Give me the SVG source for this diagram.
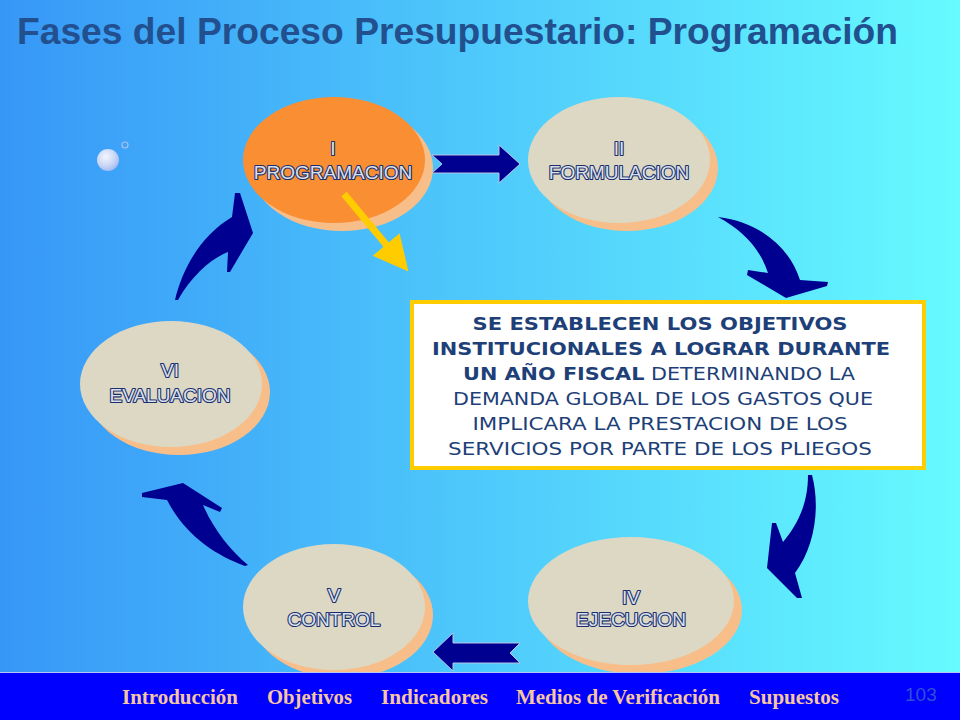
<svg xmlns="http://www.w3.org/2000/svg" width="960" height="720" viewBox="0 0 960 720">
  <defs>
    <linearGradient id="bg" x1="0" y1="0" x2="1" y2="0">
      <stop offset="0" stop-color="#3797F7"/>
      <stop offset="1" stop-color="#66FBFF"/>
    </linearGradient>
    <radialGradient id="ball" cx="0.4" cy="0.35" r="0.7">
      <stop offset="0" stop-color="#F4F6FF"/>
      <stop offset="0.6" stop-color="#C9D6F6"/>
      <stop offset="1" stop-color="#9FB6EE"/>
    </radialGradient>
    <marker id="yhead" viewBox="0 0 10 10" refX="8" refY="5" markerWidth="5" markerHeight="5.5" orient="auto" markerUnits="strokeWidth">
      <path d="M0,0 L10,5 L0,10 Z" fill="#FFCC00"/>
    </marker>
    <style>
      .shadow { fill: #F8BE8A; }
      .oval { fill: #DDD8C4; }
      .oval.active { fill: #F98E32; }
      .lbl { font-family: "Liberation Sans", Arial, sans-serif; font-size: 19px; text-anchor: middle; fill: #DCE0EA; stroke: #1A2F6E; stroke-width: 2.2px; paint-order: stroke; stroke-linejoin: round; }
      .big { fill: #000090; stroke: #B8C4E8; stroke-width: 1; }
      .curve { fill: #000090; }
      .box { font-family: "DejaVu Sans", Verdana, sans-serif; font-size: 18px; fill: #1E3F78; text-anchor: middle; }
      .b { font-weight: bold; }
      .nav { font-family: "Liberation Serif", "Times New Roman", serif; font-weight: bold; font-size: 21px; fill: #F6C6A2; }
    </style>
  </defs>

  <rect x="0" y="0" width="960" height="720" fill="url(#bg)"/>

  <text x="17" y="44" font-family="Liberation Sans, Arial, sans-serif" font-weight="bold" font-size="37" fill="#22508E" textLength="881" lengthAdjust="spacingAndGlyphs">Fases del Proceso Presupuestario: Programación</text>

  <g id="ornament">
    <circle cx="108" cy="160" r="11" fill="url(#ball)"/>
    <circle cx="125" cy="145" r="3" fill="none" stroke="#A9C0EE" stroke-width="1.2"/>
  </g>

  <g id="connectors">
    <path class="big" d="M432,155 L499,155 L499,145 L520,164 L499,183 L499,173 L432,173 L442,164 Z"/>
    <path class="big" d="M520,643 L453,643 L453,633 L433,652 L453,671 L453,663 L520,663 L510,653 Z"/>
    <path class="curve" d="M718,217 C760,222 790,248 800,280 L828,282 L827,286 L786,298 L747,275 L748,270 L768,273 C760,248 742,230 718,217 Z"/>
    <path class="curve" d="M808,475 L812,475 C820,505 816,545 795,573 L802,598 L797,598 L767,568 L772,523 L776,523 L783,542 C797,525 808,505 808,475 Z"/>
    <path class="curve" d="M183,483 L222,508 L220,512 L203,505 C214,530 230,550 248,565 L245,566 C215,555 185,535 167,500 L142,497 L142,493 Z"/>
    <path class="curve" d="M235,193 L240,193 L253,233 L230,272 L227,272 L228,252 C212,258 192,275 178,300 L175,300 C182,270 200,236 232,217 Z"/>
  </g>

  <g id="node-programacion">
    <ellipse class="shadow" cx="342" cy="168" rx="91" ry="63"/>
    <ellipse class="oval active" cx="334" cy="160" rx="91" ry="63"/>
    <text class="lbl" x="333" y="155">I</text>
    <text class="lbl" x="333" y="179">PROGRAMACION</text>
  </g>

  <g id="node-formulacion">
    <ellipse class="shadow" cx="627" cy="168" rx="91" ry="63"/>
    <ellipse class="oval" cx="619" cy="160" rx="91" ry="63"/>
    <text class="lbl" x="619" y="155">II</text>
    <text class="lbl" x="619" y="179">FORMULACION</text>
  </g>

  <g id="node-evaluacion">
    <ellipse class="shadow" cx="179" cy="392" rx="91" ry="63"/>
    <ellipse class="oval" cx="171" cy="384" rx="91" ry="63"/>
    <text class="lbl" x="170" y="377">VI</text>
    <text class="lbl" x="170" y="402">EVALUACION</text>
  </g>

  <g id="node-control">
    <ellipse class="shadow" cx="342" cy="615" rx="91" ry="63"/>
    <ellipse class="oval" cx="334" cy="607" rx="91" ry="63"/>
    <text class="lbl" x="334" y="602">V</text>
    <text class="lbl" x="334" y="626">CONTROL</text>
  </g>

  <g id="node-ejecucion">
    <ellipse class="shadow" cx="639" cy="610" rx="103" ry="64"/>
    <ellipse class="oval" cx="631" cy="601" rx="103" ry="64"/>
    <text class="lbl" x="631" y="604">IV</text>
    <text class="lbl" x="631" y="626">EJECUCION</text>
  </g>

  <g id="pointer">
    <line x1="344" y1="194" x2="404" y2="266" stroke="#FFCC00" stroke-width="7" marker-end="url(#yhead)"/>
  </g>

  <g id="node-description">
    <rect x="412" y="302" width="512" height="166" fill="#FFFFFF" stroke="#FFCC00" stroke-width="4"/>
    <text class="box b" x="660" y="330" textLength="375" lengthAdjust="spacingAndGlyphs">SE ESTABLECEN LOS OBJETIVOS</text>
    <text class="box b" x="661" y="355" textLength="458" lengthAdjust="spacingAndGlyphs">INSTITUCIONALES A LOGRAR DURANTE</text>
    <text class="box" x="659" y="380" textLength="392" lengthAdjust="spacingAndGlyphs"><tspan class="b">UN AÑO FISCAL</tspan> DETERMINANDO LA</text>
    <text class="box" x="663" y="405" textLength="420" lengthAdjust="spacingAndGlyphs">DEMANDA GLOBAL DE LOS GASTOS QUE</text>
    <text class="box" x="660" y="430" textLength="375" lengthAdjust="spacingAndGlyphs">IMPLICARA LA PRESTACION DE LOS</text>
    <text class="box" x="660" y="455" textLength="424" lengthAdjust="spacingAndGlyphs">SERVICIOS POR PARTE DE LOS PLIEGOS</text>
  </g>

  <g id="navbar">
    <rect x="0" y="672" width="960" height="48" fill="#0000FF"/>
    <line x1="0" y1="672.5" x2="960" y2="672.5" stroke="#B9C6F2" stroke-width="1"/>
    <text class="nav" x="122" y="704" textLength="116" lengthAdjust="spacingAndGlyphs">Introducción</text>
    <text class="nav" x="267" y="704" textLength="85" lengthAdjust="spacingAndGlyphs">Objetivos</text>
    <text class="nav" x="381" y="704" textLength="107" lengthAdjust="spacingAndGlyphs">Indicadores</text>
    <text class="nav" x="516" y="704" textLength="204" lengthAdjust="spacingAndGlyphs">Medios de Verificación</text>
    <text class="nav" x="749" y="704" textLength="90" lengthAdjust="spacingAndGlyphs">Supuestos</text>
    <text x="905" y="701" font-family="Liberation Sans, Arial, sans-serif" font-size="19" fill="#2F4FD6">103</text>
  </g>
</svg>
